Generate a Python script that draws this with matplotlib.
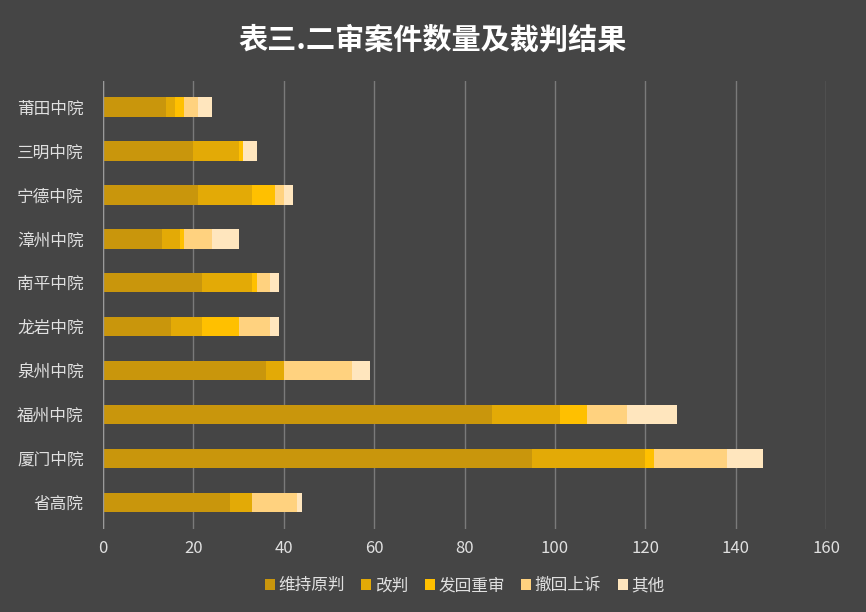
import numpy as np
import matplotlib.pyplot as plt

plt.rcParams['font.sans-serif'] = ['Noto Sans CJK SC']

courts = ["省高院", "厦门中院", "福州中院", "泉州中院", "龙岩中院",
          "南平中院", "漳州中院", "宁德中院", "三明中院", "莆田中院"]
series = ["维持原判", "改判", "发回重审", "撤回上诉", "其他"]
upheld = [28, 95, 86, 36, 15, 22, 13, 21, 20, 14]
revised = [5, 25, 15, 4, 7, 11, 4, 12, 10, 2]
remanded = [0, 2, 6, 0, 8, 1, 1, 5, 1, 2]
withdrawn = [10, 16, 9, 15, 7, 3, 6, 2, 0, 3]
other = [1, 8, 11, 4, 2, 2, 6, 2, 3, 3]
colors = ["#C9960C", "#E3AA06", "#FFC000", "#FFD27F", "#FFE6BE"]

fig = plt.figure(figsize=(8.66, 6.12), dpi=100, facecolor="#454545")
ax = fig.add_axes([0.119, 0.136, 0.835, 0.732], facecolor="#454545")

y = np.arange(len(courts))
left = np.zeros(len(courts))
for name, vals, c in zip(series, [upheld, revised, remanded, withdrawn, other], colors):
    ax.barh(y, vals, left=left, height=0.44, color=c, label=name, zorder=3)
    left += np.array(vals)

ax.set_xlim(0, 160)
ax.set_ylim(-0.6, 9.6)
ax.set_xticks(range(0, 161, 20))
ax.set_yticks(y)
ax.set_yticklabels(courts)
ax.tick_params(colors="#E0E0E0", labelsize=12, length=0)
ax.tick_params(axis="y", pad=14)
ax.tick_params(axis="x", pad=8)
ax.xaxis.grid(True, color="#7A7A7A", lw=1, zorder=0)
for s in ax.spines.values():
    s.set_visible(False)
ax.axvline(0, color="#9A9A9A", lw=1, zorder=4)

fig.suptitle("表三.二审案件数量及裁判结果", color="white", fontsize=21,
             fontweight="bold", y=0.96)
leg = ax.legend(loc="upper center", bbox_to_anchor=(0.5, -0.075), ncol=5,
                frameon=False, fontsize=12, handlelength=0.6, handletextpad=0.2,
                columnspacing=1.0)
for t in leg.get_texts():
    t.set_color("#E0E0E0")

plt.savefig("out.png", facecolor=fig.get_facecolor())
